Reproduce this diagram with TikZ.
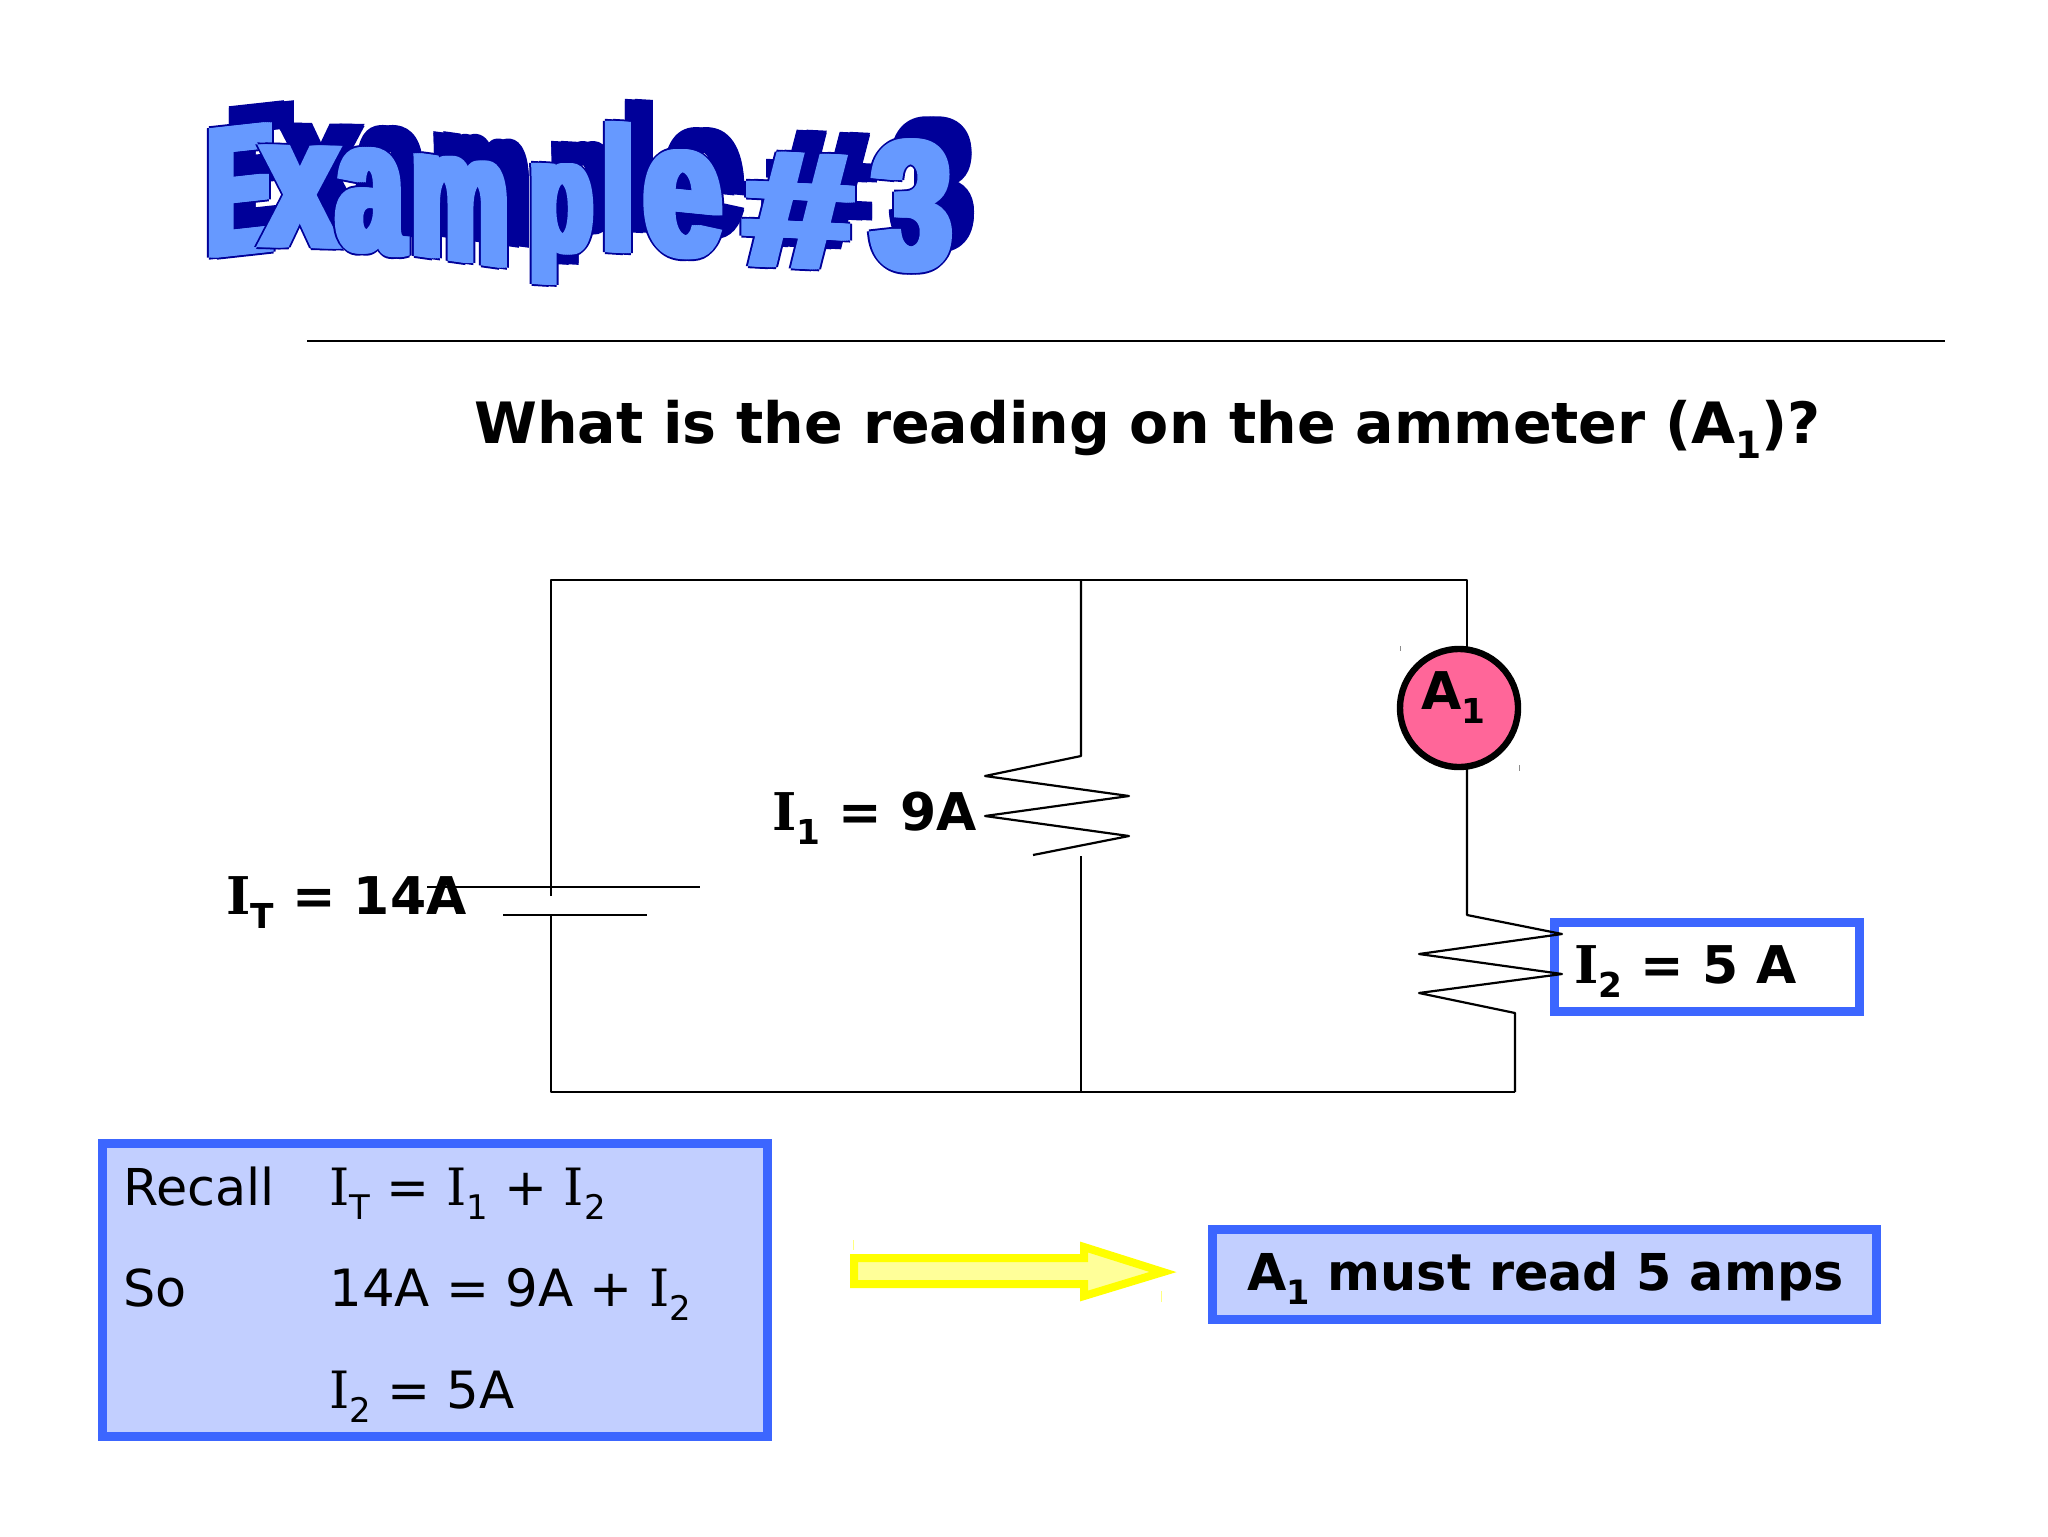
\documentclass[tikz,border=0pt]{standalone}
\usepackage{graphicx}
\usepackage{fontspec}
\setmainfont{DejaVu Sans}
\newfontfamily\slabfont{DejaVu Serif}
\newfontfamily\wafont[BoldFeatures={FakeBold=3}]{Liberation Sans}
\definecolor{boxblue}{HTML}{3C66FF}
\definecolor{boxfill}{HTML}{C2CFFF}
\definecolor{artlight}{HTML}{6699FF}
\definecolor{artdark}{HTML}{000099}
\definecolor{pinkm}{HTML}{FF6699}
\definecolor{arrowy}{HTML}{FFFF00}
\definecolor{arrowf}{HTML}{FFFF99}
\newcommand\Ibar{{\slabfont I}}
\newcommand\subs[1]{\raisebox{-.28em}{\scalebox{.66}{#1}}}
\newcommand\artbox[5]{\resizebox*{\dimexpr #3pt*1/2-#1pt*1/2\relax}{\dimexpr #4pt*1/2-#2pt*1/2\relax}{\wafont\bfseries\fontsize{60}{60}\selectfont #5}}
\newcommand\wordletters{%
\WA{E}{208}{128}{272}{252}{.11}%
\WA{x}{263}{148}{337}{245}{-.02}%
\WA{a}{337}{150}{403}{252}{-.12}%
\WA{m}{412}{160}{508}{259}{-.14}%
\WA{p}{530}{165}{592}{283}{-.06}%
\WA{l}{603}{124}{633}{250}{-.06}%
\WA{e}{644}{152}{721}{256}{-.1}%
\WA{\#}{745}{155}{851}{266}{-.05}%
\WA{3}{872}{141}{951}{270}{0}%
}
\tikzset{
  wire/.style={draw=black,line width=1.1pt,line join=round},
  plate/.style={draw=black,line width=1.1pt},
  slabel/.style={inner sep=0pt,anchor=base west,font=\fontsize{26}{30}\selectfont\bfseries},
  rlabel/.style={inner sep=0pt,anchor=base west,font=\fontsize{25.7}{30}\selectfont},
  bluebox/.style={draw=boxblue,line width=4.5pt,outer sep=0pt,inner sep=0pt,anchor=north west},
  tick/.style={draw=black!45,line width=.35pt},
  ytick/.style={draw=arrowy!50,line width=.35pt},
  art/.style={inner sep=0pt,anchor=center,transform shape}
}
\begin{document}
\begin{tikzpicture}[x=0.5pt,y=-0.5pt]
\useasboundingbox (0,0) rectangle (2048,1536);
% word art
\def\WA#1#2#3#4#5#6{%
  \foreach \ox/\oy in {-5/-1,5/-1,-5/1,5/1,0/0}{
    \node[art,text=artdark,yslant=#6] at ({(#2+#4)/2+21+\ox},{(#3+#5)/2-21+\oy}) {\artbox{#2}{#3}{#4}{#5}{#1}};
  }}
\wordletters
\def\WA#1#2#3#4#5#6{%
  \foreach \ox/\oy in {-6/0,6/0,-4/-2,4/-2,-4/2,4/2}{
    \node[art,text=artdark,yslant=#6] at ({(#2+#4)/2+\ox},{(#3+#5)/2+\oy}) {\artbox{#2}{#3}{#4}{#5}{#1}};
  }
  \foreach \ox in {-4,-2,0,2,4}{
    \node[art,text=artlight,yslant=#6] at ({(#2+#4)/2+\ox},{(#3+#5)/2}) {\artbox{#2}{#3}{#4}{#5}{#1}};
  }}
\wordletters
% rule and title
\coordinate (ruleL) at (307,341);
\coordinate (ruleR) at (1945,341);
\draw[line width=1.4pt] (ruleL) -- (ruleR);
\node[slabel,font=\fontsize{28.5}{32}\selectfont\bfseries] (title) at (474,443) {What is the reading on the ammeter (A\subs{1})?};
% recall box, conclusion box, I2 box
\node[bluebox,fill=boxfill,minimum width=332.5pt,minimum height=146.5pt] (recallbox) at (102,1143) {};
\node[bluebox,fill=boxfill,minimum width=332pt,minimum height=45pt] (resultbox) at (1212,1229) {};
\node[bluebox,fill=white,minimum width=152.5pt,minimum height=44.5pt] (i2box) at (1554,922) {};
% circuit coordinates
\coordinate (tl) at (551,580);
\coordinate (tm) at (1081,580);
\coordinate (tr) at (1467,580);
\coordinate (bl) at (551,1092);
\coordinate (bm) at (1081,1092);
\coordinate (br) at (1515,1092);
\coordinate (battTop) at (551,896);
\coordinate (battBot) at (551,915);
\coordinate (pl1) at (427,887);
\coordinate (pl2) at (700,887);
\coordinate (ps1) at (503,915);
\coordinate (ps2) at (647,915);
\node[draw=black,line width=3.2pt,fill=pinkm,circle,inner sep=0pt,minimum size=59pt] (amm) at (1459,708) {};
\coordinate (ammTop) at (1467,647);
\coordinate (ammBot) at (1467,769);
% wires
\draw[wire] (battTop) -- (tl) -- (tr) -- (ammTop);
\draw[wire] (battBot) -- (bl) -- (br);
\draw[plate] (pl1) -- (pl2);
\draw[plate] (ps1) -- (ps2);
% middle resistor
\draw[wire] (tm) -- (1081,756) -- (985,776) -- (1129,796) -- (985,816) -- (1129,836) -- (1033,855);
\draw[wire] (1081,856) -- (bm);
% right resistor
\draw[wire] (ammBot) -- (1467,915) -- (1562,934) -- (1419,954) -- (1562,974) -- (1419,993) -- (1515,1013) -- (br);
% ticks
\draw[tick] (1400,646) -- (1400,651);
\draw[tick] (1519,765) -- (1519,771);
\draw[ytick] (853,1240) -- (853,1250);
\draw[ytick] (1161,1291) -- (1161,1302);
% arrow
\draw[draw=arrowy,fill=arrowf,line width=4pt,miter limit=10] (854,1258) -- (1084,1258) -- (1084,1247) -- (1163,1272) -- (1084,1296) -- (1084,1284) -- (854,1284) -- cycle;
% labels
\node[slabel] (it) at (226,914) {\Ibar\subs{T} = 14A};
\node[slabel] (ione) at (772,830) {\Ibar\subs{1} = 9A};
\node[slabel] (itwo) at (1574,983) {\Ibar\subs{2} = 5 A};
\node[slabel] (aone) at (1421,709) {A\subs{1}};
\node[slabel,font=\fontsize{25.4}{30}\selectfont\bfseries] (result) at (1247,1290) {A\subs{1} must read 5 amps};
\node[rlabel,font=\fontsize{25.4}{30}\selectfont] (recall) at (123,1205) {Recall};
\node[rlabel,font=\fontsize{25.4}{30}\selectfont] (so) at (123,1306) {So};
\node[rlabel] (eq1) at (329,1205) {\Ibar\subs{T} = \Ibar\subs{1} + \Ibar\subs{2}};
\node[rlabel] (eq2) at (329,1306) {14A = 9A + \Ibar\subs{2}};
\node[rlabel] (eq3) at (329,1408) {\Ibar\subs{2} = 5A};
\end{tikzpicture}
\end{document}
